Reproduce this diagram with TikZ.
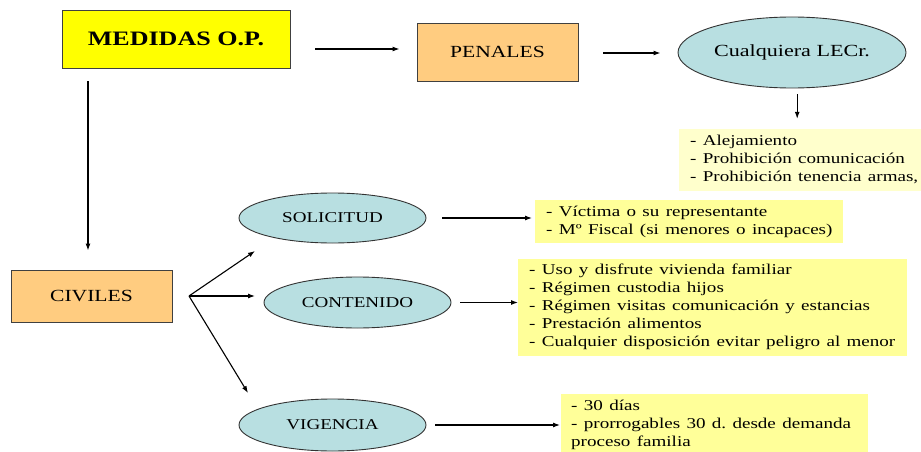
\documentclass[tikz,border=0pt]{standalone}
\usepackage{fontspec}
\usepackage{graphicx}
\setmainfont{Liberation Serif}
\usetikzlibrary{shapes.geometric,arrows.meta}
\frenchspacing
\newcommand{\hs}[2][1.27]{\scalebox{#1}[1]{#2}}
\newcommand{\lines}[1]{\hs{\begin{tabular}{@{}l@{}}#1\end{tabular}}}
\definecolor{ybright}{HTML}{FFFF00}
\definecolor{orangebox}{HTML}{FFCC80}
\definecolor{bluell}{HTML}{B8DFE1}
\definecolor{ylist}{HTML}{FFFF99}
\definecolor{ypale}{HTML}{FFFFCC}
\tikzset{
  arr/.style={draw=black, line width=1.1pt, -{Latex[length=7pt,width=5pt]}},
  mainbox/.style={draw=black!75, line width=0.9pt, fill=ybright, font=\fontsize{20.5}{22}\selectfont\bfseries, minimum width=228pt, minimum height=58pt, inner sep=0pt},
  catbox/.style={draw=black!75, line width=0.9pt, fill=orangebox, font=\fontsize{17}{19}\selectfont, minimum width=161pt, inner sep=0pt},
  oval/.style={ellipse, draw=black!80, line width=0.9pt, fill=bluell, font=\fontsize{15}{17}\selectfont, inner sep=0pt},
  listbox/.style={fill=ylist, font=\fontsize{15}{18}\selectfont, align=left, inner ysep=0pt, anchor=west},
}
\begin{document}
\begin{tikzpicture}[x=1pt,y=-1pt]
\useasboundingbox (0,0) rectangle (921,452);
\node[mainbox] (med) at (176,39) {\hs{MEDIDAS O.P.}};
\node[catbox, minimum height=58pt] (pen) at (497.5,52) {\hs{PENALES}};
\node[oval, minimum width=228pt, minimum height=71pt, font=\fontsize{17}{19}\selectfont] (lec) at (792,52.5) {\hs[1.3]{Cualquiera LECr.}};
\node[listbox, fill=ypale, inner xsep=11pt, text width=220pt, minimum height=62pt] (plist) at (679,160) {\lines{- Alejamiento\\- Prohibición comunicación\\- Prohibición tenencia armas,}};
\node[catbox, minimum height=52pt] (civ) at (91.5,296) {\hs{CIVILES}};
\node[oval, minimum width=187pt, minimum height=50pt] (sol) at (332.5,218) {\hs{SOLICITUD}};
\node[oval, minimum width=187pt, minimum height=51pt] (con) at (357.5,302.5) {\hs{CONTENIDO}};
\node[oval, minimum width=187pt, minimum height=52pt] (vig) at (332.5,425) {\hs{VIGENCIA}};
\node[listbox, inner xsep=11pt, text width=286pt, minimum height=43pt] (slist) at (535,221.5) {\lines{- Víctima o su representante\\- Mº Fiscal (si menores o incapaces)}};
\node[listbox, inner xsep=11pt, text width=367pt, minimum height=97pt] (clist) at (518,307) {\lines{- Uso y disfrute vivienda familiar\\- Régimen custodia hijos\\- Régimen visitas comunicación y estancias\\- Prestación alimentos\\- Cualquier disposición evitar peligro al menor}};
\node[listbox, inner xsep=10pt, text width=287pt, minimum height=62pt] (vlist) at (561,425) {\lines{- 30 días\\- prorrogables 30 d. desde demanda\\proceso familia}};
% connector ends
\coordinate (fan) at (189,296);
\coordinate (tsol) at (255,251);
\coordinate (tcon) at (255,296);
\coordinate (tvig) at (248,393);
\draw[arr, shorten <=25pt, shorten >=17pt] (med.east |- 0,49) -- (pen.west |- 0,49);
\draw[arr, shorten <=25pt, shorten >=17pt] (pen.east |- 0,53) -- (lec.west |- 0,53);
\draw[arr, shorten <=6pt, shorten >=10pt] (lec.south -| plist.north) ++(-3,0) coordinate (lb) (lb) -- (lb |- plist.north);
\draw[arr, shorten <=13pt, shorten >=19pt] (med.south -| 88,0) -- (civ.north -| 88,0);
\draw[arr] (fan) -- (tsol);
\draw[arr] (fan) -- (tcon);
\draw[arr] (fan) -- (tvig);
\draw[arr, shorten <=16pt, shorten >=3pt] (sol.east) -- (slist.west |- sol.east);
\draw[arr, shorten <=9pt, shorten >=0pt] (con.east) -- (clist.west |- con.east);
\draw[arr, shorten <=9pt, shorten >=1pt] (vig.east) -- (vlist.west |- vig.east);
\end{tikzpicture}
\end{document}
